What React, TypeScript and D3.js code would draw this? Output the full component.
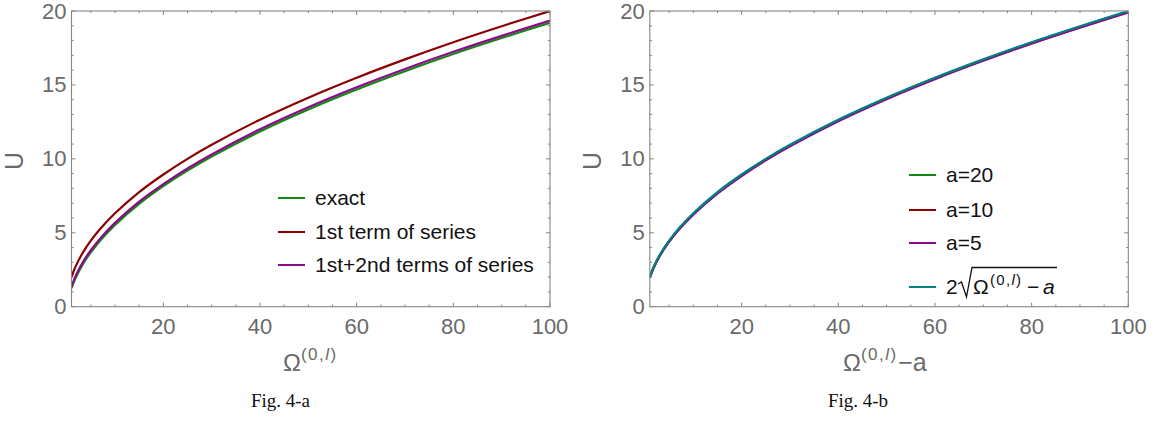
import React from "react";
import * as d3 from "d3";

const xs = [1, 1.5, 2, 3, 4, 5, 7, 10, 15, 20, 25, 30, 40, 50, 60, 70, 80, 90, 100];

// Fig 4-a
const exactA = [1.25, 1.68, 2.04, 2.67, 3.21, 3.68, 4.5, 5.53, 6.95, 8.15, 9.2, 10.15, 11.85, 13.34, 14.69, 15.93, 17.09, 18.17, 19.2];
const firstTermA = [2.0, 2.45, 2.83, 3.46, 4.0, 4.47, 5.29, 6.32, 7.75, 8.94, 10.0, 10.95, 12.65, 14.14, 15.49, 16.73, 17.89, 18.97, 20.0];
const firstSecondA = [1.35, 1.8, 2.18, 2.81, 3.35, 3.82, 4.64, 5.67, 7.1, 8.29, 9.35, 10.3, 12.0, 13.49, 14.84, 16.08, 17.24, 18.32, 19.35];

// Fig 4-b
const a20 = [1.99, 2.43, 2.81, 3.44, 3.97, 4.44, 5.26, 6.29, 7.72, 8.91, 9.97, 10.92, 12.62, 14.11, 15.46, 16.7, 17.86, 18.94, 19.97];
const a10 = [1.98, 2.42, 2.79, 3.41, 3.95, 4.42, 5.24, 6.27, 7.69, 8.89, 9.94, 10.89, 12.59, 14.08, 15.43, 16.67, 17.83, 18.91, 19.94];
const a5 = [1.97, 2.4, 2.77, 3.39, 3.92, 4.39, 5.2, 6.23, 7.65, 8.84, 9.9, 10.85, 12.55, 14.04, 15.39, 16.63, 17.79, 18.87, 19.9];
const sqrtCurve = [2.0, 2.45, 2.83, 3.46, 4.0, 4.47, 5.29, 6.32, 7.75, 8.94, 10.0, 10.95, 12.65, 14.14, 15.49, 16.73, 17.89, 18.97, 20.0];

const xMajor = [20, 40, 60, 80, 100];
const xMinor = [5, 10, 15, 25, 30, 35, 45, 50, 55, 65, 70, 75, 85, 90, 95];
const yMajor = [0, 5, 10, 15, 20];
const yMinor = [1, 2, 3, 4, 6, 7, 8, 9, 11, 12, 13, 14, 16, 17, 18, 19];

const GREEN = "#118a11";
const RED = "#8b0000";
const PURPLE = "#8a0a8a";
const TEAL = "#008080";
const AXIS = "#858585";
const LABEL = "#6a6a6a";
const SANS = "'Liberation Sans', Arial, sans-serif";
const SERIF = "'Liberation Serif', 'DejaVu Serif', serif";

type Series = { values: number[]; color: string };

function Panel({ left, right, series, clipId }: { left: number; right: number; series: Series[]; clipId: string }) {
  const top = 11;
  const bottom = 306.7;
  const x = d3.scaleLinear().domain([1, 100]).range([left, right]);
  const y = d3.scaleLinear().domain([0, 20]).range([bottom, top]);
  const line = d3
    .line<number>()
    .x((_, i) => x(xs[i]))
    .y((d) => y(d))
    .curve(d3.curveCatmullRom.alpha(0.5));
  return (
    <g>
      <defs>
        <clipPath id={clipId}>
          <rect x={left} y={top} width={right - left} height={bottom - top} />
        </clipPath>
      </defs>
      <g clipPath={`url(#${clipId})`}>
        {series.map((s, i) => (
          <path key={i} d={line(s.values) || ""} fill="none" stroke={s.color} strokeWidth={2.2} />
        ))}
      </g>
      <rect x={left} y={top} width={right - left} height={bottom - top} fill="none" stroke={AXIS} strokeWidth={1.1} />
      {xMajor.map((t) => (
        <g key={"xM" + t}>
          <line x1={x(t)} x2={x(t)} y1={bottom} y2={bottom - 4} stroke={AXIS} />
          <line x1={x(t)} x2={x(t)} y1={top} y2={top + 4} stroke={AXIS} />
          <text x={x(t)} y={334} textAnchor="middle" fontFamily={SANS} fontSize={22} fill={LABEL}>
            {t}
          </text>
        </g>
      ))}
      {xMinor.map((t) => (
        <g key={"xm" + t}>
          <line x1={x(t)} x2={x(t)} y1={bottom} y2={bottom - 2.2} stroke={AXIS} />
          <line x1={x(t)} x2={x(t)} y1={top} y2={top + 2.2} stroke={AXIS} />
        </g>
      ))}
      {yMajor.map((t) => (
        <g key={"yM" + t}>
          <line x1={left} x2={left + 4} y1={y(t)} y2={y(t)} stroke={AXIS} />
          <line x1={right} x2={right - 4} y1={y(t)} y2={y(t)} stroke={AXIS} />
          <text x={left - 5} y={y(t) + 7.5} textAnchor="end" fontFamily={SANS} fontSize={22} fill={LABEL}>
            {t}
          </text>
        </g>
      ))}
      {yMinor.map((t) => (
        <g key={"ym" + t}>
          <line x1={left} x2={left + 2.2} y1={y(t)} y2={y(t)} stroke={AXIS} />
          <line x1={right} x2={right - 2.2} y1={y(t)} y2={y(t)} stroke={AXIS} />
        </g>
      ))}
      <text
        transform={`translate(${left - 49},${(top + bottom) / 2 + 2}) rotate(-90)`}
        textAnchor="middle"
        fontFamily={SANS}
        fontSize={25}
        fill={LABEL}
      >
        U
      </text>
    </g>
  );
}

function LegendRow({ x, y, color, label }: { x: number; y: number; color: string; label: string }) {
  return (
    <g>
      <line x1={x} x2={x + 27} y1={y} y2={y} stroke={color} strokeWidth={2} />
      <text x={x + 37} y={y + 7} fontFamily={SANS} fontSize={21} fill="#111">
        {label}
      </text>
    </g>
  );
}

export default function App() {
  const legendA: Series[] = [
    { values: exactA, color: GREEN },
    { values: firstTermA, color: RED },
    { values: firstSecondA, color: PURPLE },
  ];
  const legendB: Series[] = [
    { values: a20, color: GREEN },
    { values: a10, color: RED },
    { values: a5, color: PURPLE },
    { values: sqrtCurve, color: TEAL },
  ];
  return (
    <svg width={1165} height={421} style={{ position: "absolute", left: 0, top: 0, background: "#fff" }}>
      <rect x={0} y={0} width={1165} height={421} fill="#fff" />
      <Panel left={71.5} right={550} series={legendA} clipId="clipA" />
      <Panel left={649.8} right={1128.3} series={legendB} clipId="clipB" />

      {/* Legend A */}
      <LegendRow x={278} y={198} color={GREEN} label="exact" />
      <LegendRow x={278} y={232} color={RED} label="1st term of series" />
      <LegendRow x={278} y={265} color={PURPLE} label="1st+2nd terms of series" />

      {/* Legend B */}
      <LegendRow x={909} y={175} color={GREEN} label="a=20" />
      <LegendRow x={909} y={210} color={RED} label="a=10" />
      <LegendRow x={909} y={243} color={PURPLE} label="a=5" />
      <g fontFamily={SANS} fill="#111">
        <line x1={909} x2={936} y1={287} y2={287} stroke={TEAL} strokeWidth={2} />
        <text x={946} y={294} fontSize={21}>
          2
        </text>
        <path d="M958,284 L961.5,282 L966.5,297 L972,267.5 L1057,267.5" fill="none" stroke="#111" strokeWidth={1.3} />
        <text x={973} y={294} fontSize={21}>
          Ω
        </text>
        <text x={990} y={285} fontSize={15} letterSpacing={1.3}>
          (0,
          <tspan fontStyle="italic">l</tspan>)
        </text>
        <text x={1027} y={294} fontSize={21}>
          −
        </text>
        <text x={1043} y={294} fontSize={21} fontStyle="italic">
          a
        </text>
      </g>

      {/* X axis labels */}
      <text x={283} y={371} fontFamily={SANS} fontSize={24} fill={LABEL}>
        Ω
        <tspan fontSize={17} dy={-11} letterSpacing={1.5}>
          (0,
        </tspan>
        <tspan fontSize={17} fontStyle="italic" letterSpacing={1.5}>
          l
        </tspan>
        <tspan fontSize={17}>)</tspan>
      </text>
      <text x={843} y={371} fontFamily={SANS} fontSize={24} fill={LABEL}>
        Ω
        <tspan fontSize={17} dy={-11} letterSpacing={1.5}>
          (0,
        </tspan>
        <tspan fontSize={17} fontStyle="italic" letterSpacing={1.5}>
          l
        </tspan>
        <tspan fontSize={17}>)</tspan>
        <tspan dy={11} dx={2} fontSize={25}>
          −a
        </tspan>
      </text>

      {/* Captions */}
      <text x={280.5} y={407} textAnchor="middle" fontFamily={SERIF} fontSize={19} fill="#111">
        Fig. 4-a
      </text>
      <text x={858} y={407} textAnchor="middle" fontFamily={SERIF} fontSize={19} fill="#111">
        Fig. 4-b
      </text>
    </svg>
  );
}
